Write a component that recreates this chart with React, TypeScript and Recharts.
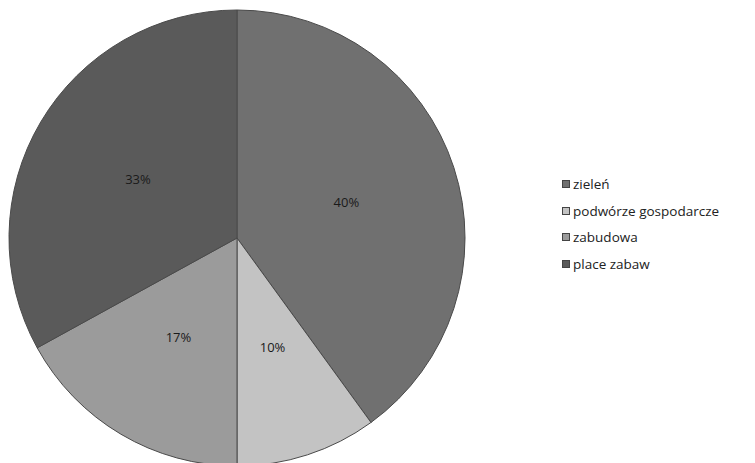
import React from 'react';
import { PieChart, Pie, Cell, Legend } from 'recharts';

const categories = ['zieleń', 'podwórze gospodarcze', 'zabudowa', 'place zabaw'];
const shares = [40, 10, 17, 33];
const colors = ['#707070', '#c3c3c3', '#9b9b9b', '#5a5a5a'];

const data = categories.map((name, i) => ({ name, value: shares[i] }));

const RADIAN = Math.PI / 180;

const renderLabel = (props: any) => {
  const { cx, cy, midAngle, value } = props;
  const r = 115;
  const x = cx + r * Math.cos(-midAngle * RADIAN);
  const y = cy + r * Math.sin(-midAngle * RADIAN);
  return (
    <text x={x} y={y} fill="#1a1a1a" fontSize={13} textAnchor="middle" dominantBaseline="central"
      fontFamily="'Open Sans', sans-serif">
      {`${value}%`}
    </text>
  );
};

const renderLegend = () => (
  <div style={{ fontFamily: "'Open Sans', sans-serif", fontSize: 13.5, color: '#222' }}>
    {data.map((entry, index) => (
      <div key={`leg-${index}`} style={{ display: 'flex', alignItems: 'center', height: 26.5 }}>
        <span style={{ display: 'inline-block', width: 6, height: 6, background: colors[index], border: '1px solid #444', marginRight: 3 }} />
        <span>{entry.name}</span>
      </div>
    ))}
  </div>
);

export default function App() {
  return (
    <div style={{ position: 'absolute', left: 0, top: 0, width: 755, height: 463, background: '#fff', overflow: 'hidden' }}>
      <PieChart width={755} height={463} margin={{ top: 0, right: 0, bottom: 0, left: 0 }}>
        <Pie
          data={data}
          dataKey="value"
          nameKey="name"
          cx={237}
          cy={238}
          outerRadius={228}
          startAngle={90}
          endAngle={-270}
          stroke="#4a4a4a"
          strokeWidth={1}
          label={renderLabel}
          labelLine={false}
          isAnimationActive={false}
        >
          {data.map((entry, index) => (
            <Cell key={`cell-${index}`} fill={colors[index]} />
          ))}
        </Pie>
        <Legend content={renderLegend} layout="vertical" wrapperStyle={{ left: 562, top: 171, width: 193 }} />
      </PieChart>
    </div>
  );
}
